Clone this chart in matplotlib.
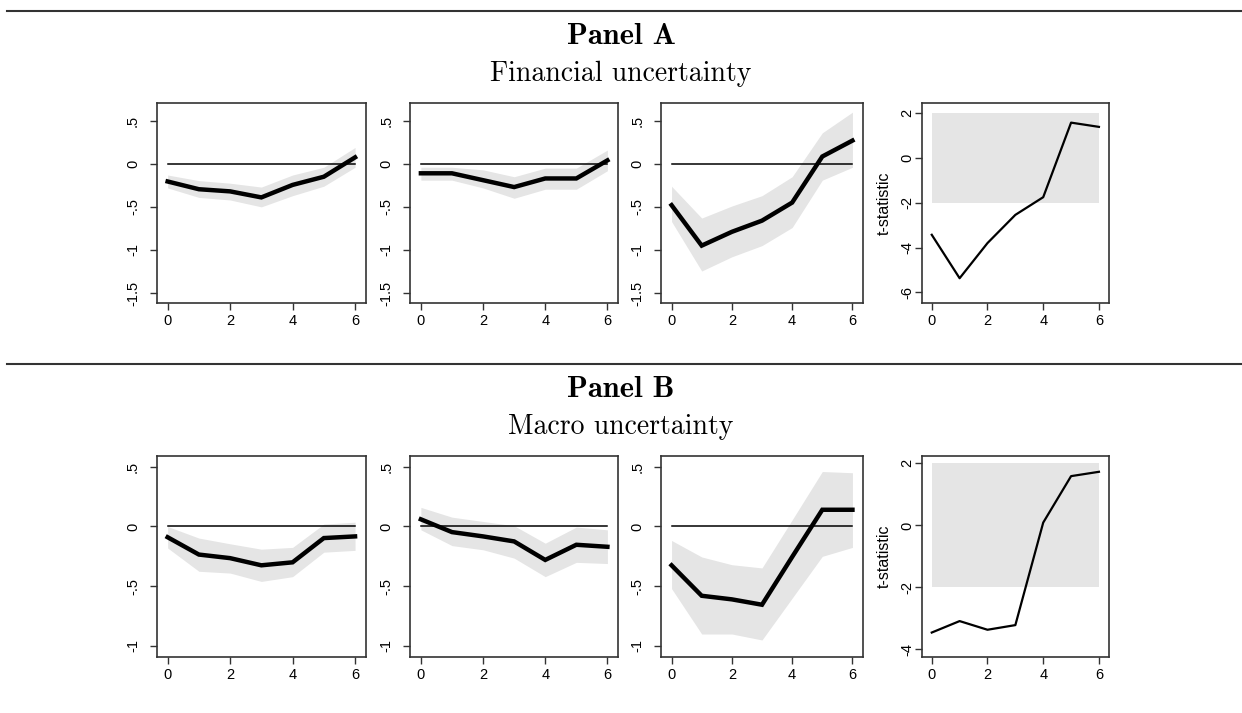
import numpy as np
import matplotlib
matplotlib.use("Agg")
import matplotlib.pyplot as plt
from matplotlib.lines import Line2D

plt.rcParams["font.family"] = ["Liberation Sans", "DejaVu Sans"]

horizon = [0, 1, 2, 3, 4, 5, 6]

# Panel A: financial uncertainty (point estimate, lower, upper)
a1_est = [-0.205, -0.295, -0.32, -0.39, -0.245, -0.15, 0.075]
a1_lo = [-0.28, -0.39, -0.42, -0.50, -0.37, -0.26, -0.04]
a1_hi = [-0.13, -0.195, -0.225, -0.27, -0.13, -0.04, 0.19]

a2_est = [-0.11, -0.11, -0.19, -0.27, -0.17, -0.17, 0.04]
a2_lo = [-0.19, -0.19, -0.28, -0.40, -0.295, -0.295, -0.08]
a2_hi = [-0.04, -0.04, -0.07, -0.15, -0.05, -0.05, 0.16]

a3_est = [-0.48, -0.95, -0.79, -0.66, -0.45, 0.085, 0.27]
a3_lo = [-0.67, -1.245, -1.08, -0.95, -0.74, -0.19, -0.04]
a3_hi = [-0.26, -0.63, -0.49, -0.37, -0.15, 0.36, 0.60]

a_tstat = [-3.43, -5.37, -3.8, -2.54, -1.75, 1.58, 1.39]

# Panel B: macro uncertainty
b1_est = [-0.09, -0.235, -0.265, -0.325, -0.30, -0.097, -0.083]
b1_lo = [-0.18, -0.375, -0.39, -0.46, -0.42, -0.215, -0.20]
b1_hi = [0.0, -0.097, -0.145, -0.19, -0.175, 0.02, 0.036]

b2_est = [0.06, -0.047, -0.083, -0.125, -0.28, -0.153, -0.17]
b2_lo = [-0.028, -0.16, -0.195, -0.265, -0.42, -0.30, -0.31]
b2_hi = [0.16, 0.078, 0.042, 0.006, -0.14, -0.005, -0.028]

b3_est = [-0.325, -0.58, -0.61, -0.655, -0.255, 0.14, 0.14]
b3_lo = [-0.52, -0.90, -0.90, -0.95, -0.60, -0.25, -0.175]
b3_hi = [-0.117, -0.255, -0.32, -0.347, 0.055, 0.46, 0.45]

b_tstat = [-3.46, -3.09, -3.37, -3.22, 0.09, 1.59, 1.73]

a_ticks = [0.5, 0, -0.5, -1, -1.5]
a_ticklabels = [".5", "0", "-.5", "-1", "-1.5"]
b_ticks = [0.5, 0, -0.5, -1]
b_ticklabels = [".5", "0", "-.5", "-1"]
t_ticks_a = [2, 0, -2, -4, -6]
t_ticks_b = [2, 0, -2, -4]

W, H = 1242, 713
fig = plt.figure(figsize=(W / 100, H / 100), dpi=100)

band_color = "#e5e5e5"
frame_color = "#333333"


def px_axes(left, top, right, bottom):
    return fig.add_axes([left / W, 1 - bottom / H, (right - left) / W, (bottom - top) / H])


def style(ax, ylim, ticks, labels, ypad):
    ax.set_xlim(-0.35, 6.35)
    ax.set_ylim(*ylim)
    ax.set_xticks([0, 2, 4, 6])
    ax.set_yticks(ticks)
    ax.set_yticklabels(labels)
    ax.tick_params(axis="both", direction="out", length=5, width=1, labelsize=10.5,
                   color=frame_color)
    ax.tick_params(axis="x", pad=3)
    ax.tick_params(axis="y", labelrotation=90, pad=ypad)
    for lab in ax.get_yticklabels():
        lab.set_va("center")
    for s in ax.spines.values():
        s.set_color(frame_color)
        s.set_linewidth(1.2)


def irf(ax, est, lo, hi, ylim, ticks, labels):
    ax.fill_between(horizon, lo, hi, color=band_color, lw=0)
    ax.plot([horizon[0], horizon[-1]], [0, 0], color="black", lw=1.1)
    ax.plot(horizon, est, color="black", lw=3.2, solid_joinstyle="miter")
    style(ax, ylim, ticks, labels, 7)


def tstat(ax, t, ylim, ticks):
    ax.fill_between([horizon[0], horizon[-1]], [-2, -2], [2, 2], color=band_color, lw=0)
    ax.plot(horizon, t, color="black", lw=1.6)
    style(ax, ylim, ticks, [str(v) for v in ticks], 0.5)
    ax.set_ylabel("t-statistic", fontsize=11.5)
    ax.yaxis.set_label_coords(-0.16, 0.5)


cols = [(156.7, 366), (410, 618.3), (661, 863), (922, 1108.7)]
rows = [(102.7, 303.3), (456, 656.7)]

ylim_a = (-1.62, 0.71)
ylim_b = (-1.09, 0.59)
ylim_ta = (-6.49, 2.47)
ylim_tb = (-4.24, 2.24)

panel_a = [(a1_est, a1_lo, a1_hi), (a2_est, a2_lo, a2_hi), (a3_est, a3_lo, a3_hi)]
panel_b = [(b1_est, b1_lo, b1_hi), (b2_est, b2_lo, b2_hi), (b3_est, b3_lo, b3_hi)]

for i, (e, l, h) in enumerate(panel_a):
    ax = px_axes(cols[i][0], rows[0][0], cols[i][1], rows[0][1])
    irf(ax, e, l, h, ylim_a, a_ticks, a_ticklabels)
ax = px_axes(cols[3][0], rows[0][0], cols[3][1], rows[0][1])
tstat(ax, a_tstat, ylim_ta, t_ticks_a)

for i, (e, l, h) in enumerate(panel_b):
    ax = px_axes(cols[i][0], rows[1][0], cols[i][1], rows[1][1])
    irf(ax, e, l, h, ylim_b, b_ticks, b_ticklabels)
ax = px_axes(cols[3][0], rows[1][0], cols[3][1], rows[1][1])
tstat(ax, b_tstat, ylim_tb, t_ticks_b)

# rules and panel headings
for y in (10.5, 363.5):
    fig.add_artist(Line2D([7 / W, 1.0], [1 - y / H, 1 - y / H], color="#333333", lw=1.5))

headings = [("Panel A", "Financial uncertainty", 0), ("Panel B", "Macro uncertainty", 353)]
for bold, sub, dy in headings:
    fig.text(0.5, 1 - (44.3 + dy) / H, bold, ha="center", va="baseline",
             family="cmb10", fontsize=22)
    fig.text(0.5, 1 - (81 + dy) / H, sub, ha="center", va="baseline",
             family="cmr10", fontsize=20)

fig.savefig("out.png", dpi=100)
